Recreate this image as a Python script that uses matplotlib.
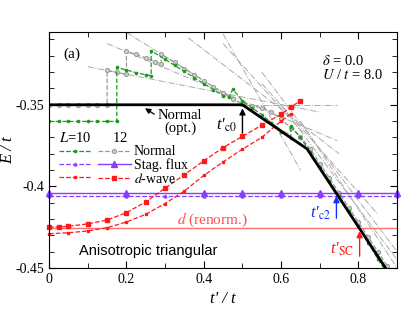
import numpy as np
import matplotlib
matplotlib.use("Agg")
import matplotlib.pyplot as plt
from matplotlib.ticker import MultipleLocator, FixedLocator

plt.rcParams['font.family'] = ['Liberation Serif', 'DejaVu Serif']
plt.rcParams['mathtext.fontset'] = 'stix'

# optimized normal state (thick black)
opt_t = [0.0, 0.5, 0.667, 0.87]
opt_E = [-0.35, -0.35, -0.377, -0.45]

# d-wave, L=12 (squares) and L=10 (small)
d12_t = [0, 0.025, 0.05, 0.1, 0.15, 0.2, 0.25, 0.3, 0.35, 0.4, 0.45, 0.5, 0.55, 0.6, 0.625, 0.65]
d12_E = [-0.4249, -0.4249, -0.4244, -0.4230, -0.4206, -0.4161, -0.4095, -0.4011, -0.3928,
         -0.3844, -0.3762, -0.3694, -0.3625, -0.3558, -0.3515, -0.3475]
d10_t = [0, 0.05, 0.1, 0.15, 0.2, 0.25, 0.3, 0.35, 0.4, 0.45, 0.5, 0.55, 0.6, 0.625]
d10_E = [-0.4290, -0.4284, -0.4273, -0.4253, -0.4218, -0.4171, -0.4105, -0.4028, -0.3933,
         -0.3850, -0.3772, -0.3700, -0.3600, -0.3555]
d_renorm = -0.4253

# staggered flux
sf_t = [0, 0.2, 0.4, 0.5, 0.6, 0.7, 0.8, 0.9]
sf12_E = [-0.4038] * 8
sf10_t = [0, 0.2, 0.3, 0.4, 0.5, 0.6, 0.7, 0.8, 0.9]
sf10_E = [-0.4058] * 9

# normal state, L=12 (gray circles)
n12_t = [0, 0.025, 0.05, 0.075, 0.1, 0.125, 0.15, 0.15, 0.175, 0.2, 0.2, 0.225, 0.25, 0.275, 0.29,
         0.29, 0.325, 0.35, 0.375, 0.4, 0.425, 0.45, 0.475, 0.5, 0.525, 0.55, 0.575, 0.6,
         0.625, 0.65, 0.675, 0.7, 0.725, 0.75, 0.775, 0.8, 0.825, 0.85, 0.875]
n12_E = [-0.35, -0.35, -0.35, -0.35, -0.35, -0.35, -0.35, -0.3290, -0.3302, -0.3314, -0.3170,
         -0.3192, -0.3214, -0.3236, -0.3250, -0.3190, -0.3241, -0.3278, -0.3315, -0.3352,
         -0.3389, -0.3426, -0.3463, -0.3495, -0.3505, -0.3520, -0.3545, -0.3590, -0.3640,
         -0.3695, -0.3770, -0.3860, -0.3950, -0.4040, -0.4130, -0.4220, -0.4310, -0.4400, -0.4490]

# normal state, L=10 (green)
n10_t = [0, 0.025, 0.05, 0.075, 0.1, 0.125, 0.15, 0.175, 0.175, 0.2, 0.225, 0.25, 0.264,
         0.264, 0.3, 0.325, 0.35, 0.375, 0.4, 0.425, 0.45, 0.465, 0.475, 0.5, 0.525, 0.55,
         0.575, 0.6, 0.625, 0.625, 0.65, 0.675, 0.7, 0.725, 0.75, 0.775, 0.8, 0.825, 0.85, 0.875]
n10_E = [-0.3602] * 8 + [-0.3271, -0.3287, -0.3303, -0.3316, -0.3322,
         -0.3169, -0.3222, -0.3259, -0.3296, -0.3333, -0.3370, -0.3407, -0.3444, -0.3455,
         -0.3405, -0.3475, -0.3520, -0.3560, -0.3610, -0.3665, -0.3705, -0.3630, -0.3700,
         -0.3790, -0.3880, -0.3970, -0.4060, -0.4150, -0.4245, -0.4345, -0.4445, -0.4535]

# thin gray dash-dot level lines (t0, E0, t1, E1)
lev_t0 = [0.10, 0.15, 0.20, 0.36, 0.45, 0.45, 0.55, 0.55, 0.60, 0.65, 0.50]
lev_E0 = [-0.3267, -0.3125, -0.3056, -0.3090, -0.3066, -0.3126, -0.3370, -0.3300, -0.3500, -0.3600, -0.3503]
lev_t1 = [0.70, 0.745, 0.62, 0.75, 0.65, 0.66, 0.85, 0.90, 0.90, 0.90, 0.745]
lev_E1 = [-0.3545, -0.3720, -0.3680, -0.3800, -0.3900, -0.3680, -0.4170, -0.4400, -0.4450, -0.4500, -0.3503]

green = '#1e9a1e'
gray = '#999999'
purple = '#8a3cff'
red = '#ff1a1a'
blue = '#1030ff'

fig = plt.figure(figsize=(4.09, 3.12), dpi=100)
ax = fig.add_axes([0.12, 0.141, 0.851, 0.756])

for i in range(len(lev_t0)):
    ax.plot([lev_t0[i], lev_t1[i]], [lev_E0[i], lev_E1[i]], color='#aaaaaa', ls='-.', lw=0.7, zorder=1)

h_n12, = ax.plot(n12_t, n12_E, color=gray, ls='--', lw=0.9, marker='o', ms=3,
                 mfc='#cccccc', mec=gray, mew=0.7, zorder=2)
h_n10, = ax.plot(n10_t, n10_E, color=green, ls='--', lw=0.9, marker='o', ms=1.6, zorder=2)

ax.axhline(d_renorm, color='#ff7070', lw=1.0, zorder=2)
h_sf12, = ax.plot(sf_t, sf12_E, color=purple, ls='-', lw=1.0, marker='^', ms=4, zorder=2, clip_on=False)
h_sf10, = ax.plot(sf10_t, sf10_E, color=purple, ls='--', lw=0.9, marker='^', ms=2, zorder=2, clip_on=False)
h_d12, = ax.plot(d12_t, d12_E, color=red, ls='--', lw=0.9, marker='s', ms=3, zorder=2, clip_on=False)
h_d10, = ax.plot(d10_t, d10_E, color=red, ls='--', lw=0.9, marker='s', ms=1.6, zorder=2, clip_on=False)

ax.plot(opt_t, opt_E, color='black', lw=2.0, zorder=3)

ax.set_xlim(0, 0.9)
ax.set_ylim(-0.45, -0.3055)
ax.xaxis.set_major_locator(FixedLocator([0, 0.2, 0.4, 0.6, 0.8]))
ax.set_xticklabels(['0', '0.2', '0.4', '0.6', '0.8'])
ax.xaxis.set_minor_locator(MultipleLocator(0.1))
ax.yaxis.set_major_locator(FixedLocator([-0.45, -0.4, -0.35]))
ax.set_yticklabels(['-0.45', '-0.4', '-0.35'])
ax.yaxis.set_minor_locator(MultipleLocator(0.01))
ax.tick_params(which='both', direction='in', top=True, right=True, labelsize=10)
ax.tick_params(which='major', length=5)
ax.tick_params(which='minor', length=3.5)
ax.set_xlabel("t' / t", fontsize=12, fontstyle='italic', labelpad=4)
ax.set_ylabel("E / t", fontsize=12, fontstyle='italic')
ax.yaxis.set_label_coords(-0.095, 0.5)

ax.text(0.04, 0.907, '(a)', transform=ax.transAxes, fontsize=11, va='center')
ax.text(0.783, 0.878, r'$\delta$ = 0.0', transform=ax.transAxes, fontsize=10.5, va='center')
ax.text(0.783, 0.818, r'$U$ / $t$ = 8.0', transform=ax.transAxes, fontsize=10.5, va='center')

ax.annotate('', xy=(0.242, -0.3512), xytext=(0.278, -0.3567),
            arrowprops=dict(arrowstyle='-|>', color='black', lw=0.9, mutation_scale=8))
ax.text(0.281, -0.3605, 'Normal\n(opt.)', fontsize=10.5, va='center', ha='left',
        multialignment='center', linespacing=1.0)

ax.annotate('', xy=(0.5, -0.3505), xytext=(0.5, -0.369),
            arrowprops=dict(arrowstyle='-|>', color='black', lw=1.0, mutation_scale=9))
ax.text(0.487, -0.3625, "t'${}_{\\rm c0}$", fontsize=12, fontstyle='italic', ha='right', va='center')

ax.annotate('', xy=(0.743, -0.4042), xytext=(0.743, -0.4212),
            arrowprops=dict(arrowstyle='-|>', color=blue, lw=1.0, mutation_scale=9))
ax.text(0.73, -0.4165, "t'${}_{\\rm c2}$", fontsize=12, fontstyle='italic', ha='right', va='center', color=blue)

ax.annotate('', xy=(0.803, -0.4257), xytext=(0.803, -0.4445),
            arrowprops=dict(arrowstyle='-|>', color=red, lw=1.0, mutation_scale=9))
ax.text(0.79, -0.4385, "t'${}_{\\rm SC}$", fontsize=12, fontstyle='italic', ha='right', va='center', color=red)

ax.text(0.332, -0.4203, r'$d$ (renorm.)', fontsize=11, color='#ff5050', va='center')
ax.text(0.078, -0.4396, 'Anisotropic triangular', fontsize=10.5, va='center',
        family=['Liberation Sans', 'DejaVu Sans'])

leg = ax.legend(handles=[h_n10, h_sf10, h_d10, h_n12, h_sf12, h_d12],
                labels=['', '', '', 'Normal', 'Stag. flux', '$d$-wave'],
                ncol=2, loc='upper left', bbox_to_anchor=(0.0, 0.62), frameon=False,
                fontsize=10, handlelength=2.4, handletextpad=0.2, columnspacing=0.2,
                labelspacing=0.0, numpoints=1, borderpad=0.2,
                title=r'$L$=10      12', title_fontsize=10.5, alignment='left')
leg.set_zorder(4)

fig.savefig('out.png', dpi=100)
